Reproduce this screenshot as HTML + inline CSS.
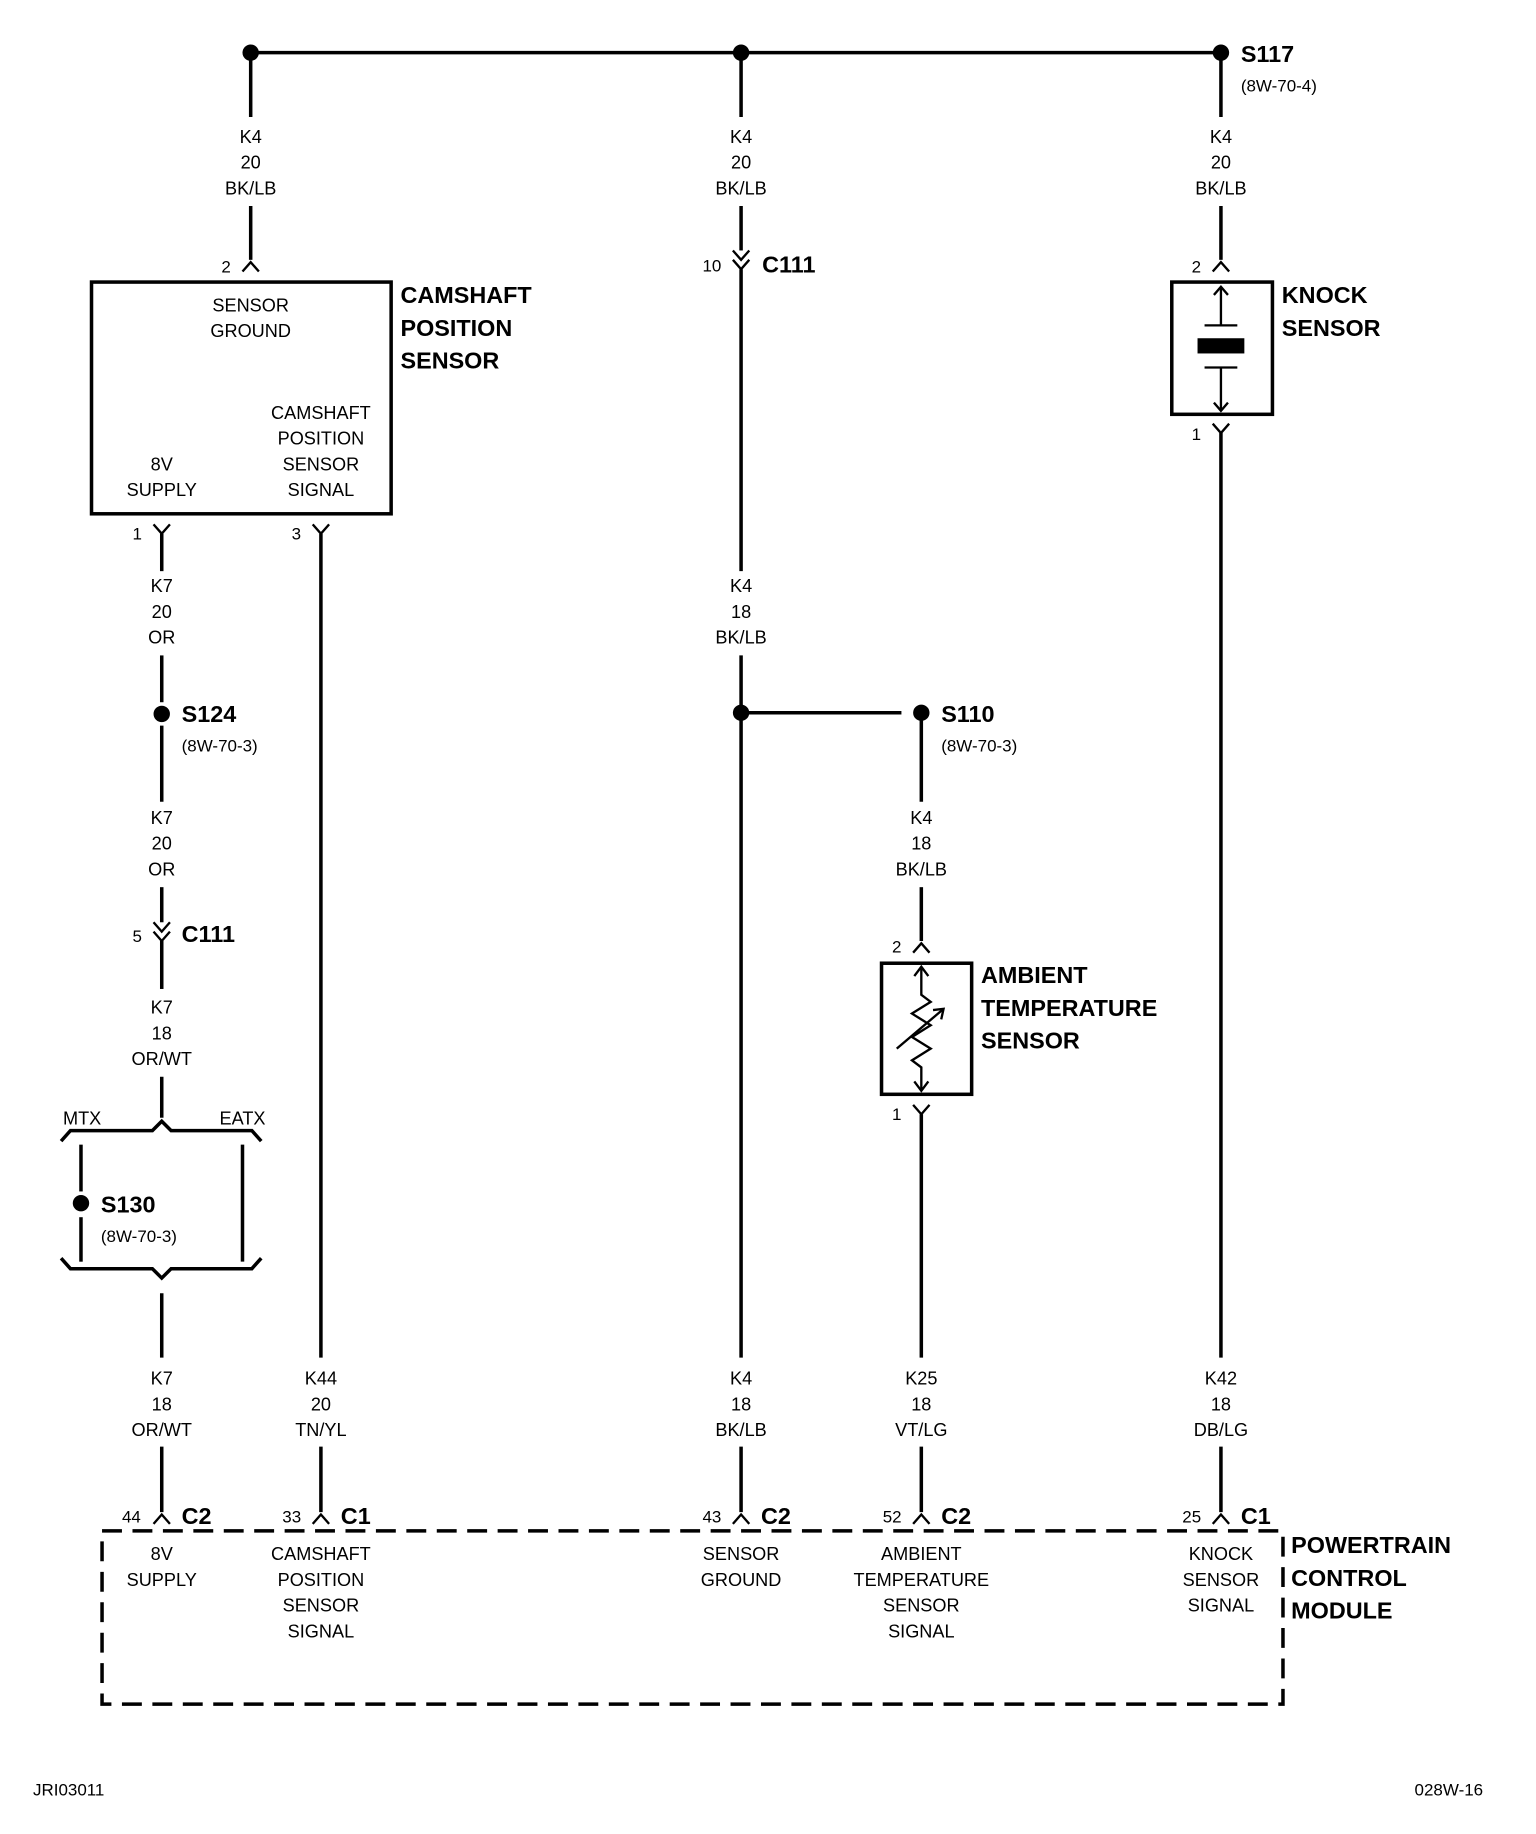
<!DOCTYPE html>
<html><head><meta charset="utf-8"><style>
html,body{margin:0;padding:0;background:#fff}
svg{display:block}
text{font-family:"Liberation Sans Narrow","Liberation Sans",sans-serif;fill:#000}
.t{font-size:15.5px;text-anchor:middle}
.b{font-size:20px;font-weight:bold}
.n{font-size:14.5px}
</style></head><body>
<svg width="1536" height="1834" viewBox="0 0 1312 1567" xmlns="http://www.w3.org/2000/svg">
<g stroke="#000" stroke-width="3" fill="none">
<line x1="214" y1="45" x2="1043" y2="45"/>
<line x1="214" y1="45" x2="214" y2="100"/>
<line x1="214" y1="176" x2="214" y2="222"/>
<polyline points="207,232 214,224 221,232" stroke-width="2"/>
<rect x="78" y="241" width="256" height="198"/>
<polyline points="131,448 138,456 145,448" stroke-width="2"/>
<line x1="138" y1="456" x2="138" y2="488"/>
<line x1="138" y1="560" x2="138" y2="600"/>
<line x1="138" y1="620" x2="138" y2="685"/>
<line x1="138" y1="758" x2="138" y2="788"/>
<line x1="138" y1="804" x2="138" y2="845"/>
<polyline points="131,788 138,796 145,788" stroke-width="2"/>
<polyline points="131,796 138,804 145,796" stroke-width="2"/>
<line x1="138" y1="920" x2="138" y2="955"/>
<polyline points="52,975 60,966 130,966 138,958 146,966 215,966 223,975"/>
<line x1="69" y1="978" x2="69" y2="1018"/>
<line x1="69" y1="1040" x2="69" y2="1078"/>
<line x1="207" y1="978" x2="207" y2="1078"/>
<polyline points="52,1075 60,1084 130,1084 138,1092 146,1084 215,1084 223,1075"/>
<line x1="138" y1="1105" x2="138" y2="1160"/>
<line x1="138" y1="1236" x2="138" y2="1292"/>
<polyline points="131,1302 138,1294 145,1302" stroke-width="2"/>
<polyline points="267,448 274,456 281,448" stroke-width="2"/>
<line x1="274" y1="456" x2="274" y2="1160"/>
<line x1="274" y1="1236" x2="274" y2="1292"/>
<polyline points="267,1302 274,1294 281,1302" stroke-width="2"/>
<line x1="633" y1="45" x2="633" y2="100"/>
<line x1="633" y1="176" x2="633" y2="214"/>
<line x1="633" y1="230" x2="633" y2="488"/>
<polyline points="626,214 633,222 640,214" stroke-width="2"/>
<polyline points="626,222 633,230 640,222" stroke-width="2"/>
<line x1="633" y1="560" x2="633" y2="1160"/>
<line x1="633" y1="609" x2="770" y2="609"/>
<line x1="633" y1="1236" x2="633" y2="1292"/>
<polyline points="626,1302 633,1294 640,1302" stroke-width="2"/>
<line x1="787" y1="609" x2="787" y2="685"/>
<line x1="787" y1="758" x2="787" y2="804"/>
<polyline points="780,814 787,806 794,814" stroke-width="2"/>
<rect x="753" y="823" width="77" height="112"/>
<g stroke-width="2">
<polyline points="787,826 787,850 795,856 779,866 795,876 779,886 795,896 779,906 787,912 787,932"/>
<polyline points="781,834 787,826 793,834"/>
<polyline points="781,924 787,932 793,924"/>
<line x1="766" y1="896" x2="806" y2="862"/>
<polyline points="797,863 806,862 804,871"/>
<polyline points="780,944 787,952 794,944"/>
</g>
<line x1="787" y1="952" x2="787" y2="1160"/>
<line x1="787" y1="1236" x2="787" y2="1292"/>
<polyline points="780,1302 787,1294 794,1302" stroke-width="2"/>
<line x1="1043" y1="45" x2="1043" y2="100"/>
<line x1="1043" y1="176" x2="1043" y2="222"/>
<polyline points="1036,232 1043,224 1050,232" stroke-width="2"/>
<rect x="1001" y="241" width="86" height="113"/>
<g stroke-width="2">
<line x1="1043" y1="245" x2="1043" y2="278"/>
<polyline points="1037,252 1043,245 1049,252"/>
<line x1="1029" y1="278" x2="1057" y2="278"/>
<line x1="1029" y1="314" x2="1057" y2="314"/>
<line x1="1043" y1="314" x2="1043" y2="351"/>
<polyline points="1037,344 1043,351 1049,344"/>
<polyline points="1036,362 1043,370 1050,362"/>
</g>
<line x1="1043" y1="370" x2="1043" y2="1160"/>
<line x1="1043" y1="1236" x2="1043" y2="1292"/>
<polyline points="1036,1302 1043,1294 1050,1302" stroke-width="2"/>
<rect x="87" y="1308" width="1009" height="148" stroke-dasharray="17,9"/>
</g>
<rect x="1023" y="289" width="40" height="13" fill="#000"/>
<g fill="#000">
<circle cx="214" cy="45" r="7"/><circle cx="633" cy="45" r="7"/><circle cx="1043" cy="45" r="7"/>
<circle cx="138" cy="610" r="7"/><circle cx="633" cy="609" r="7"/><circle cx="787" cy="609" r="7"/>
<circle cx="69" cy="1028" r="7"/>
</g>
<g>
<text x="214" y="122" class="t">K4</text><text x="214" y="144" class="t">20</text><text x="214" y="166" class="t">BK/LB</text>
<text x="633" y="122" class="t">K4</text><text x="633" y="144" class="t">20</text><text x="633" y="166" class="t">BK/LB</text>
<text x="1043" y="122" class="t">K4</text><text x="1043" y="144" class="t">20</text><text x="1043" y="166" class="t">BK/LB</text>
<text x="138" y="506" class="t">K7</text><text x="138" y="528" class="t">20</text><text x="138" y="550" class="t">OR</text>
<text x="633" y="506" class="t">K4</text><text x="633" y="528" class="t">18</text><text x="633" y="550" class="t">BK/LB</text>
<text x="138" y="704" class="t">K7</text><text x="138" y="726" class="t">20</text><text x="138" y="748" class="t">OR</text>
<text x="787" y="704" class="t">K4</text><text x="787" y="726" class="t">18</text><text x="787" y="748" class="t">BK/LB</text>
<text x="138" y="866" class="t">K7</text><text x="138" y="888" class="t">18</text><text x="138" y="910" class="t">OR/WT</text>
<text x="138" y="1183" class="t">K7</text><text x="138" y="1205" class="t">18</text><text x="138" y="1227" class="t">OR/WT</text>
<text x="274" y="1183" class="t">K44</text><text x="274" y="1205" class="t">20</text><text x="274" y="1227" class="t">TN/YL</text>
<text x="633" y="1183" class="t">K4</text><text x="633" y="1205" class="t">18</text><text x="633" y="1227" class="t">BK/LB</text>
<text x="787" y="1183" class="t">K25</text><text x="787" y="1205" class="t">18</text><text x="787" y="1227" class="t">VT/LG</text>
<text x="1043" y="1183" class="t">K42</text><text x="1043" y="1205" class="t">18</text><text x="1043" y="1227" class="t">DB/LG</text>
<text x="214" y="266" class="t">SENSOR</text><text x="214" y="288" class="t">GROUND</text>
<text x="274" y="358" class="t">CAMSHAFT</text><text x="274" y="380" class="t">POSITION</text><text x="274" y="402" class="t">SENSOR</text><text x="274" y="424" class="t">SIGNAL</text>
<text x="138" y="402" class="t">8V</text><text x="138" y="424" class="t">SUPPLY</text>
<text x="138" y="1333" class="t">8V</text><text x="138" y="1355" class="t">SUPPLY</text>
<text x="274" y="1333" class="t">CAMSHAFT</text><text x="274" y="1355" class="t">POSITION</text><text x="274" y="1377" class="t">SENSOR</text><text x="274" y="1399" class="t">SIGNAL</text>
<text x="633" y="1333" class="t">SENSOR</text><text x="633" y="1355" class="t">GROUND</text>
<text x="787" y="1333" class="t">AMBIENT</text><text x="787" y="1355" class="t">TEMPERATURE</text><text x="787" y="1377" class="t">SENSOR</text><text x="787" y="1399" class="t">SIGNAL</text>
<text x="1043" y="1333" class="t">KNOCK</text><text x="1043" y="1355" class="t">SENSOR</text><text x="1043" y="1377" class="t">SIGNAL</text>
<text x="70" y="961" class="t">MTX</text><text x="207" y="961" class="t">EATX</text>
</g>
<g>
<text x="189" y="233" class="n">2</text>
<text x="113" y="461" class="n">1</text><text x="249" y="461" class="n">3</text>
<text x="113" y="805" class="n">5</text>
<text x="600" y="232" class="n">10</text>
<text x="762" y="814" class="n">2</text><text x="762" y="957" class="n">1</text>
<text x="1018" y="233" class="n">2</text><text x="1018" y="376" class="n">1</text>
<text x="104" y="1301" class="n">44</text><text x="241" y="1301" class="n">33</text>
<text x="600" y="1301" class="n">43</text><text x="754" y="1301" class="n">52</text>
<text x="1010" y="1301" class="n">25</text>
</g>
<text x="342" y="259" class="b">CAMSHAFT</text><text x="342" y="287" class="b">POSITION</text><text x="342" y="315" class="b">SENSOR</text>
<text x="1095" y="259" class="b">KNOCK</text><text x="1095" y="287" class="b">SENSOR</text>
<text x="838" y="840" class="b">AMBIENT</text><text x="838" y="868" class="b">TEMPERATURE</text><text x="838" y="896" class="b">SENSOR</text>
<text x="1103" y="1327" class="b">POWERTRAIN</text><text x="1103" y="1355" class="b">CONTROL</text><text x="1103" y="1383" class="b">MODULE</text>
<text x="1060" y="53" class="b">S117</text><text x="1060" y="78" class="n">(8W-70-4)</text>
<text x="155" y="617" class="b">S124</text><text x="155" y="642" class="n">(8W-70-3)</text>
<text x="804" y="617" class="b">S110</text><text x="804" y="642" class="n">(8W-70-3)</text>
<text x="86" y="1036" class="b">S130</text><text x="86" y="1061" class="n">(8W-70-3)</text>
<text x="155" y="805" class="b">C111</text>
<text x="651" y="233" class="b">C111</text>
<text x="155" y="1302" class="b">C2</text><text x="291" y="1302" class="b">C1</text>
<text x="650" y="1302" class="b">C2</text><text x="804" y="1302" class="b">C2</text>
<text x="1060" y="1302" class="b">C1</text>
<text x="28" y="1534" class="n">JRI03011</text>
<text x="1267" y="1534" class="n" text-anchor="end">028W-16</text>
</svg>
</body></html>
